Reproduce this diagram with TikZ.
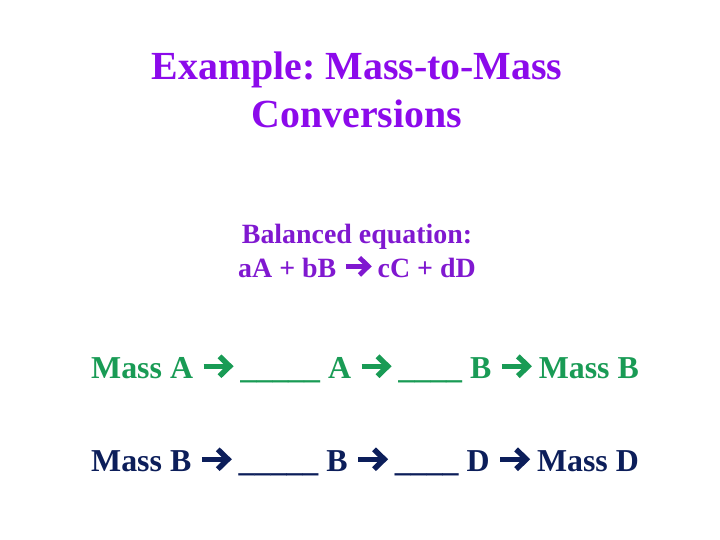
\documentclass[tikz,border=0pt]{standalone}
\usepackage{fontspec}
\setmainfont{Liberation Serif}
\frenchspacing
\definecolor{TitleViolet}{RGB}{140, 10, 235}
\definecolor{EqPurple}{RGB}{128, 24, 208}
\definecolor{RowGreen}{RGB}{25, 155, 85}
\definecolor{RowNavy}{RGB}{12, 30, 90}

% thick chevron arrow, as in the slide text
\newcommand{\fatarrow}{\tikz[baseline=0pt]{%
    \draw[line width=0.16em] (0,0.4em) -- (0.76em,0.4em);
    \draw[line width=0.17em, miter limit=4] (0.5em,0.71em) -- (0.82em,0.4em) -- (0.5em,0.09em);}}

\begin{document}
\begin{tikzpicture}[x=1bp, y=1bp,
    title/.style={text=TitleViolet, align=center, inner sep=0pt,
        font=\fontsize{40}{48}\selectfont\bfseries},
    equation/.style={text=EqPurple, align=center, inner sep=0pt,
        font=\fontsize{28}{34}\selectfont\bfseries},
    chain/.style={inner sep=0pt, anchor=base west,
        font=\fontsize{32}{38}\selectfont\bfseries}]

\useasboundingbox (0,0) rectangle (720,540);

% Title
\node[title] (title) at (357,450) {Example: Mass-to-Mass\\Conversions};

% Balanced equation
\node[equation] (balanced) at (357,289) {Balanced equation:\\aA + bB \fatarrow{} cC + dD};

% Conversion chains
\node[chain, text=RowGreen] (chainA) at (91,161)
    {Mass A \fatarrow{} \_\_\_\_\_ A \fatarrow{} \_\_\_\_ B \fatarrow{} Mass B};
\node[chain, text=RowNavy] (chainB) at (91,68)
    {Mass B \fatarrow{} \_\_\_\_\_ B \fatarrow{} \_\_\_\_ D \fatarrow{} Mass D};

\end{tikzpicture}
\end{document}
